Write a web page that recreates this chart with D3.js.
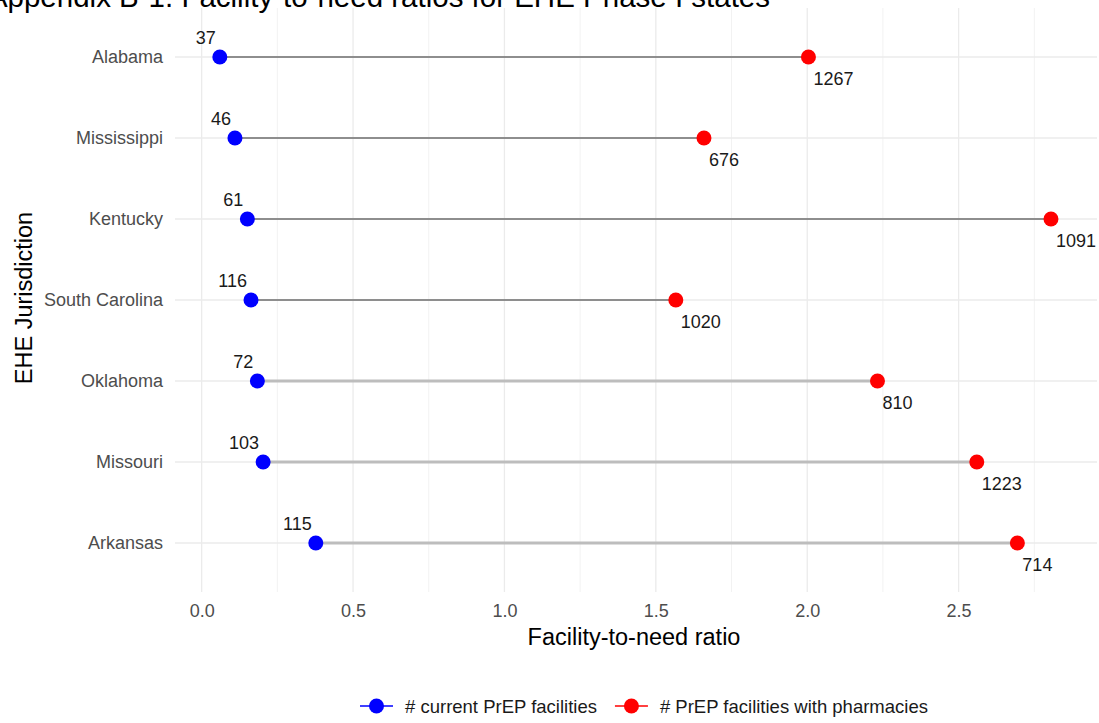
<!DOCTYPE html>
<html>
<head>
<meta charset="utf-8">
<script src="https://cdn.jsdelivr.net/npm/d3@7"></script>
<style>
  html, body { margin: 0; padding: 0; background: #ffffff; }
  svg { display: block; font-family: "Liberation Sans", Arial, sans-serif; }
</style>
</head>
<body>
<svg id="chart" width="1099" height="723"></svg>
<script>
// ---- data ----
const states = ["Alabama", "Mississippi", "Kentucky", "South Carolina", "Oklahoma", "Missouri", "Arkansas"];
const currentRatio = [0.060, 0.110, 0.151, 0.163, 0.184, 0.203, 0.377];
const pharmacyRatio = [2.004, 1.659, 2.805, 1.566, 2.232, 2.560, 2.694];
const currentCount = [37, 46, 61, 116, 72, 103, 115];
const pharmacyCount = [1267, 676, 1091, 1020, 810, 1223, 714];
const segmentTone = ["dark", "dark", "dark", "dark", "light", "light", "light"];
const xTicks = [0, 0.5, 1.0, 1.5, 2.0, 2.5];
const xMinorTicks = [0.25, 0.75, 1.25, 1.75, 2.25, 2.75];
const seriesNames = ["# current PrEP facilities", "# PrEP facilities with pharmacies"];
const seriesColors = ["#0000ff", "#ff0000"];
const titleText = "Appendix B-1. Facility-to-need ratios for EHE Phase I states";
const xTitle = "Facility-to-need ratio";
const yTitle = "EHE Jurisdiction";

const rows = states.map((s, i) => ({
  state: s, cur: currentRatio[i], ph: pharmacyRatio[i],
  curN: currentCount[i], phN: pharmacyCount[i], tone: segmentTone[i]
}));

// ---- layout ----
const svg = d3.select("#chart");
const panel = { left: 175, right: 1097, top: 8, bottom: 592 };

const x = d3.scaleLinear().domain([-0.088, 2.957]).range([panel.left, panel.right]);
const y = d3.scalePoint().domain(states).range([57, 543]);

// grid
const grid = svg.append("g");
grid.selectAll("line.minor").data(xMinorTicks).join("line")
  .attr("x1", d => x(d)).attr("x2", d => x(d))
  .attr("y1", panel.top).attr("y2", panel.bottom)
  .attr("stroke", "#f2f2f2").attr("stroke-width", 1);
grid.selectAll("line.major").data(xTicks).join("line")
  .attr("x1", d => x(d)).attr("x2", d => x(d))
  .attr("y1", panel.top).attr("y2", panel.bottom)
  .attr("stroke", "#ebebeb").attr("stroke-width", 1.3);
grid.selectAll("line.h").data(states).join("line")
  .attr("x1", panel.left).attr("x2", panel.right)
  .attr("y1", d => y(d)).attr("y2", d => y(d))
  .attr("stroke", "#ebebeb").attr("stroke-width", 1.3);

// title
svg.append("text").attr("x", 770).attr("y", 7)
  .attr("text-anchor", "end").attr("font-size", 29.5).attr("fill", "#000")
  .text(titleText);

// axes
const xAxis = svg.append("g").attr("transform", `translate(0,${panel.bottom})`)
  .call(d3.axisBottom(x).tickValues(xTicks).tickFormat(d3.format(".1f")).tickSize(0).tickPadding(12));
xAxis.select(".domain").remove();
xAxis.selectAll("text").attr("font-size", 18).attr("fill", "#4d4d4d").attr("font-family", "Liberation Sans, Arial, sans-serif");

const yAxis = svg.append("g").attr("transform", `translate(${panel.left},0)`)
  .call(d3.axisLeft(y).tickSize(0).tickPadding(12));
yAxis.select(".domain").remove();
yAxis.selectAll("text").attr("font-size", 18).attr("fill", "#4d4d4d").attr("font-family", "Liberation Sans, Arial, sans-serif");

svg.append("text").attr("x", (panel.left + panel.right) / 2 - 2).attr("y", 645)
  .attr("text-anchor", "middle").attr("font-size", 23.5).attr("fill", "#000").text(xTitle);
svg.append("text").attr("transform", `translate(32,${(panel.top + panel.bottom) / 2 - 2}) rotate(-90)`)
  .attr("text-anchor", "middle").attr("font-size", 23.5).attr("fill", "#000").text(yTitle);

// segments
svg.append("g").selectAll("line").data(rows).join("line")
  .attr("x1", d => x(d.cur)).attr("x2", d => x(d.ph))
  .attr("y1", d => y(d.state)).attr("y2", d => y(d.state))
  .attr("stroke", d => d.tone === "dark" ? "#6e6e6e" : "#bdbdbd")
  .attr("stroke-width", d => d.tone === "dark" ? 1.4 : 2.8);

// points
svg.append("g").selectAll("circle").data(rows).join("circle")
  .attr("cx", d => x(d.cur)).attr("cy", d => y(d.state)).attr("r", 7.5)
  .attr("fill", seriesColors[0]);
svg.append("g").selectAll("circle").data(rows).join("circle")
  .attr("cx", d => x(d.ph)).attr("cy", d => y(d.state)).attr("r", 7.5)
  .attr("fill", seriesColors[1]);

// labels
svg.append("g").selectAll("text").data(rows).join("text")
  .attr("x", d => x(d.cur) - 4).attr("y", d => y(d.state) - 13)
  .attr("text-anchor", "end").attr("font-size", 18).attr("fill", "#1a1a1a")
  .text(d => d.curN);
svg.append("g").selectAll("text").data(rows).join("text")
  .attr("x", d => x(d.ph) + 5).attr("y", d => y(d.state) + 28)
  .attr("text-anchor", "start").attr("font-size", 18).attr("fill", "#1a1a1a")
  .text(d => d.phN);

// legend
const legend = svg.append("g").attr("transform", "translate(360,706)");
let offset = 0;
seriesNames.forEach((name, i) => {
  const g = legend.append("g").attr("transform", `translate(${offset},0)`);
  g.append("line").attr("x1", 0).attr("x2", 33).attr("y1", 0).attr("y2", 0)
    .attr("stroke", seriesColors[i]).attr("stroke-width", 1.6);
  g.append("circle").attr("cx", 16.5).attr("cy", 0).attr("r", 7.5).attr("fill", seriesColors[i]);
  const t = g.append("text").attr("x", 45).attr("y", 6.5).attr("font-size", 18.5).attr("fill", "#1a1a1a").text(name);
  offset += 45 + t.node().getComputedTextLength() + 18;
});
</script>
</body>
</html>
